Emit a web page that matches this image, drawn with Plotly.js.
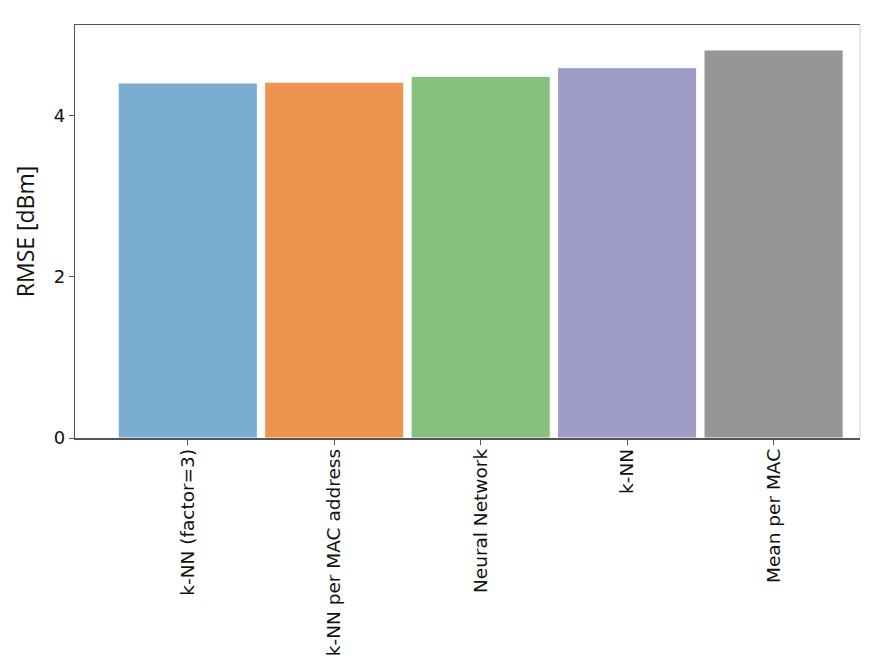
<!DOCTYPE html>
<html>
<head>
<meta charset="utf-8">
<script src="https://cdn.plot.ly/plotly-3.0.1.min.js"></script>
<style>
  html, body { margin: 0; padding: 0; background: #fff; }
  #chart { width: 878px; height: 658px; }
</style>
</head>
<body>
<div id="chart"></div>
<script>
// --- Data ---
const methods = [
  "k-NN (factor=3)",
  "k-NN per MAC address",
  "Neural Network",
  "k-NN",
  "Mean per MAC",
];
const rmse = [4.41, 4.42, 4.49, 4.60, 4.82];
const barColors = ["#7aadd1", "#ee9350", "#86c17e", "#9e9bc4", "#969696"];
const yTicks = [0, 2, 4];

const trace = {
  type: "bar",
  x: methods.map((_, i) => i),
  y: rmse,
  width: 0.95,
  marker: {
    color: barColors,
    line: { color: "#ffffff", width: 1 },
  },
  hoverinfo: "skip",
};

const layout = {
  width: 878,
  height: 658,
  margin: { l: 75, r: 18, t: 25, b: 220 },
  paper_bgcolor: "#ffffff",
  plot_bgcolor: "#ffffff",
  showlegend: false,
  font: { family: "DejaVu Sans, sans-serif", color: "#111" },
  xaxis: {
    range: [-0.77, 4.59],
    tickmode: "array",
    tickvals: methods.map((_, i) => i),
    ticktext: methods,
    tickangle: -90,
    tickfont: { size: 18.5, family: "DejaVu Sans, sans-serif" },
    ticks: "outside",
    ticklen: 5,
    tickcolor: "#555",
    ticklabelstandoff: -3,
    showgrid: false,
    zeroline: false,
    showline: true,
    mirror: true,
    linecolor: "#555",
    linewidth: 1.5,
  },
  yaxis: {
    range: [0, 5.13],
    tickmode: "array",
    tickvals: yTicks,
    ticktext: yTicks.map(String),
    tickfont: { size: 18, family: "DejaVu Sans, sans-serif" },
    ticks: "outside",
    ticklen: 5,
    tickcolor: "#555",
    showgrid: false,
    zeroline: false,
    showline: true,
    linecolor: "#555",
    linewidth: 1.2,
    title: {
      text: "RMSE [dBm]",
      font: { size: 23, family: "Open Sans, sans-serif", color: "#111" },
      standoff: 12,
    },
  },
  shapes: [
    {
      type: "line",
      xref: "paper",
      yref: "paper",
      x0: 1, x1: 1, y0: 0, y1: 1,
      line: { color: "#cccccc", width: 1 },
    },
  ],
};

Plotly.newPlot("chart", [trace], layout, { displayModeBar: false, staticPlot: true });
</script>
</body>
</html>
